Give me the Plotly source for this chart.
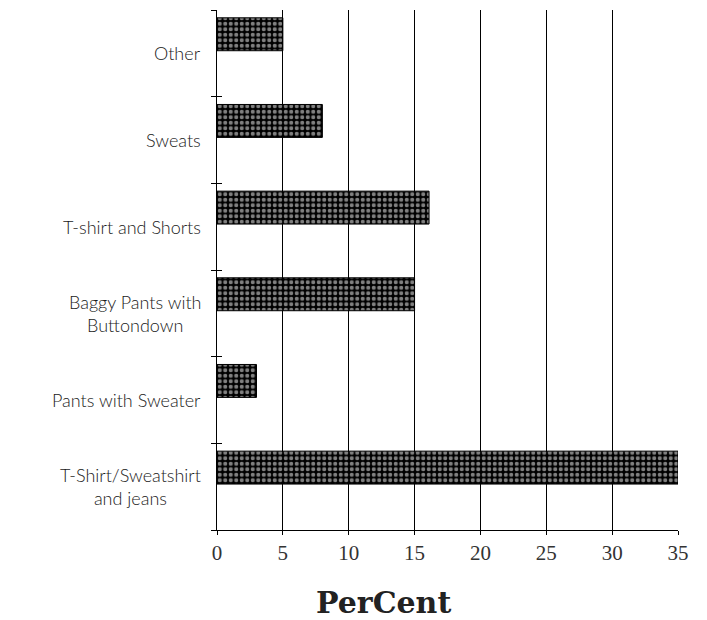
import plotly.graph_objects as go

# categories listed bottom to top, as plotted
categories = [
    "T-Shirt/Sweatshirt<br>and jeans",
    "Pants with Sweater",
    "Baggy Pants with<br>Buttondown",
    "T-shirt and Shorts",
    "Sweats",
    "Other",
]
percent = [35, 3, 15, 16.1, 8, 5]
x_ticks = [0, 5, 10, 15, 20, 25, 30, 35]

positions = list(range(len(categories)))
boundaries = [p - 0.5 for p in positions] + [positions[-1] + 0.5]

label_font = dict(family="Lato, sans-serif", size=18, color="#1a1a1a", weight=300)
num_font = dict(family="Liberation Serif, serif", size=21, color="#333333")

# the page body adds an 8px margin, so the figure is drawn 8px smaller
fig = go.Figure()

fig.add_trace(go.Bar(
    x=percent,
    y=positions,
    orientation="h",
    width=0.38,
    offset=0.03,
    marker=dict(
        color="black",
        line=dict(color="black", width=1),
        pattern=dict(shape=".", fgcolor="white", bgcolor="black", size=5.5, solidity=0.45),
    ),
    showlegend=False,
    hoverinfo="x",
))

# invisible trace to activate the overlay axis that draws the inner tick halves
fig.add_trace(go.Scatter(x=[0], y=[0], yaxis="y2", mode="markers",
                         marker=dict(opacity=0), showlegend=False, hoverinfo="skip"))

fig.update_layout(
    width=699,
    height=612,
    margin=dict(l=209, r=29, t=2, b=90),
    plot_bgcolor="white",
    paper_bgcolor="white",
    xaxis=dict(
        range=[0, 35],
        tickvals=x_ticks,
        ticks="outside",
        ticklen=4,
        tickcolor="black",
        showgrid=True,
        gridcolor="black",
        gridwidth=1,
        showline=True,
        linecolor="black",
        linewidth=1,
        zeroline=False,
        tickfont=num_font,
        automargin=False,
    ),
    yaxis=dict(
        range=[-0.5, len(categories) - 0.5],
        tickvals=boundaries,
        ticks="outside",
        ticklen=5,
        tickcolor="black",
        showticklabels=False,
        showgrid=False,
        showline=True,
        linecolor="black",
        linewidth=1,
        zeroline=False,
        automargin=False,
    ),
    yaxis2=dict(
        overlaying="y",
        range=[-0.5, len(categories) - 0.5],
        tickvals=boundaries,
        ticks="inside",
        ticklen=5,
        tickcolor="black",
        showticklabels=False,
        showgrid=False,
        zeroline=False,
        side="left",
        automargin=False,
    ),
)

# category labels: centred lines, placed left of the axis
for pos, name in zip(positions, categories):
    fig.add_annotation(
        text=name,
        xref="paper", yref="y",
        x=-0.03, y=pos,
        xanchor="right", yanchor="middle",
        align="center",
        showarrow=False,
        font=label_font,
    )

fig.add_annotation(
    text="<b>PerCent</b>",
    xref="paper", yref="paper",
    x=(383 - 217) / (678 - 217), y=-(602 - 530) / 520,
    xanchor="center", yanchor="middle",
    borderpad=0,
    showarrow=False,
    font=dict(family="DejaVu Serif, serif", size=30, color="#222222"),
)

fig.write_html("out.html")
